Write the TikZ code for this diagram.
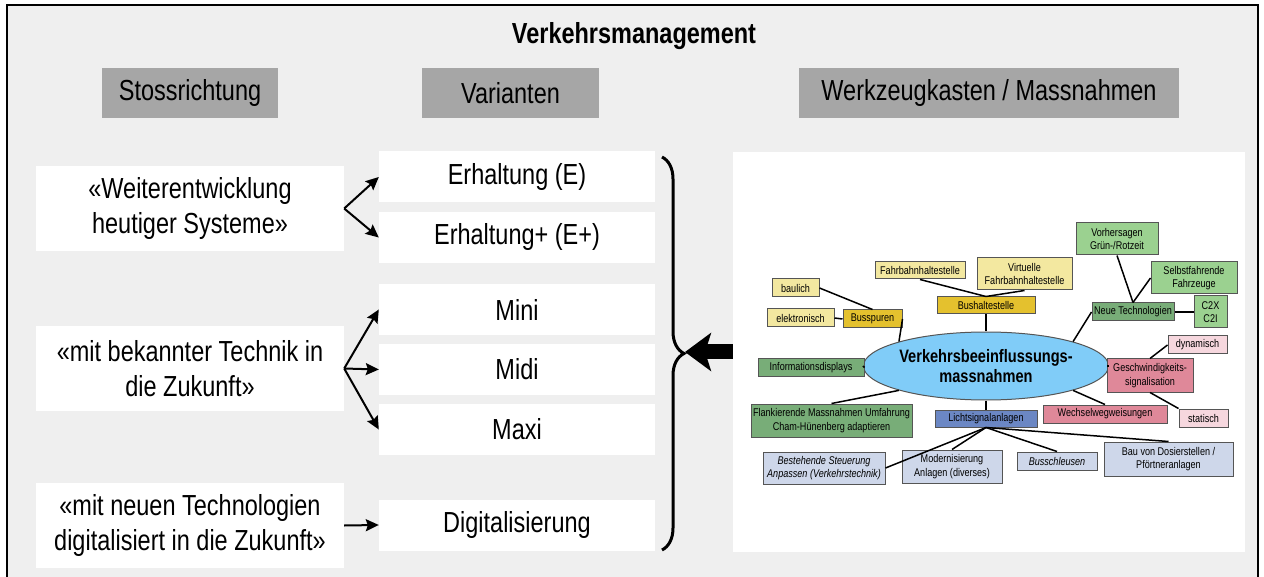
\documentclass[tikz,border=0pt]{standalone}
\usepackage{fontspec}
\setmainfont[FakeStretch=0.81]{Liberation Sans}
\usetikzlibrary{arrows.meta, shapes.geometric, decorations.pathreplacing}
\definecolor{cpanel}{HTML}{EFEFEF}
\definecolor{chead}{HTML}{A6A6A6}
\definecolor{cgold}{HTML}{E4C12E}
\definecolor{cyel}{HTML}{F3E8A0}
\definecolor{cgreen}{HTML}{9BD190}
\definecolor{cdkgreen}{HTML}{78AD78}
\definecolor{cpink}{HTML}{DF8899}
\definecolor{cltpink}{HTML}{F6D7DE}
\definecolor{cblue}{HTML}{6B87C4}
\definecolor{cltblue}{HTML}{CED7EA}
\definecolor{csky}{HTML}{80CCF8}
\definecolor{cedge}{HTML}{555555}
\tikzset{
  big/.style={font=\fontsize{29}{35}\selectfont},
  head/.style={big, fill=chead, minimum height=50pt, inner sep=0pt},
  card/.style={big, fill=white, align=center, inner sep=0pt},
  tag/.style={fill=#1, draw=cedge, line width=1pt, align=center, inner sep=0pt,
    font=\fontsize{11.2}{13.5}\selectfont},
  link/.style={line width=1.5pt},
  branch/.style={line width=2pt, -{Stealth[length=13pt, width=12pt, inset=2pt]}},
  bigarrow/.style={line width=15pt, -{Stealth[length=26pt, width=38pt, inset=6pt]}},
}

\begin{document}
\begin{tikzpicture}[x=1pt, y=-1pt]
  \fill[white] (0,0) rectangle (1264,577);
  \useasboundingbox (0,0) rectangle (1264,577);
  % frame
  \fill[cpanel] (7,5) rectangle (1258,577);
  \draw[line width=2pt] (7,577) -- (7,5) -- (1258,5) -- (1258,577);
  \node[big, font=\fontsize{29}{35}\selectfont\bfseries, anchor=base] (title) at (634,44) {Verkehrsmanagement};

  % column heads
  \node[head, minimum width=176pt] (hstoss) at (190,93) {Stossrichtung};
  \node[head, minimum width=177pt] (hvar) at (510.5,93) {Varianten};
  \node[head, minimum width=380pt] (hwerk) at (989,93) {Werkzeugkasten / Massnahmen};

  % Stossrichtungen
  \node[card, minimum width=308pt, minimum height=85pt] (weiter) at (190,208.5) {«Weiterentwicklung\\heutiger Systeme»};
  \node[card, minimum width=308pt, minimum height=85pt] (bekannt) at (190,368.5) {«mit bekannter Technik in\\die Zukunft»};
  \node[card, minimum width=308pt, minimum height=85pt] (neu) at (190,525.5) {«mit neuen Technologien\\digitalisiert in die Zukunft»};

  % Varianten
  \foreach \n/\y/\t in {ve/177/Erhaltung (E), vep/237.5/Erhaltung+ (E+), vmini/309.5/Mini,
                        vmidi/369.5/Midi, vmaxi/429.5/Maxi, vdig/525/Digitalisierung}
    \node[card, minimum width=276pt, minimum height=51pt] (\n) at (517,\y) {\t};

  \draw[branch] (weiter.east) -- (ve.west);
  \draw[branch] (weiter.east) -- (vep.west);
  \foreach \v in {vmini, vmidi, vmaxi}
    \draw[branch] (bekannt.east) -- (\v.west);
  \draw[branch] (neu.east) -- (vdig.west);

  % brace and arrow from the toolbox
  \draw[decorate, decoration={brace, amplitude=22pt}, line width=3pt] (662,157) -- (662,550);
  \node[fill=white, minimum width=512pt, minimum height=400pt, inner sep=0pt] (panel) at (989,352) {};
  \coordinate (tip) at (685,352);
  \draw[bigarrow] (panel.west) -- (tip);

  % mind map
  \node[ellipse, draw=cedge, line width=1pt, fill=csky, minimum width=228pt, minimum height=68pt,
    inner sep=0pt, align=center, font=\fontsize{18}{20}\selectfont\bfseries] (ell) at (986,366)
    {Verkehrsbeeinflussungs-\\massnahmen};

  \node[tag=cgold, minimum width=98pt, minimum height=17pt] (bush) at (986,305.5) {Bushaltestelle};
  \node[tag=cyel, minimum width=90pt, minimum height=17pt] (fahrb) at (920,270.5) {Fahrbahnhaltestelle};
  \node[tag=cyel, minimum width=95pt, minimum height=32pt] (virt) at (1024.5,274) {Virtuelle\\Fahrbahnhaltestelle};
  \node[tag=cgold, minimum width=59pt, minimum height=18pt] (busspur) at (872.5,319) {Busspuren};
  \node[tag=cyel, minimum width=47pt, minimum height=18pt] (baulich) at (795.5,288) {baulich};
  \node[tag=cyel, minimum width=67pt, minimum height=18pt] (elektr) at (800.5,318) {elektronisch};

  \node[tag=cdkgreen, minimum width=82pt, minimum height=18pt] (neutech) at (1133,312) {Neue Technologien};
  \node[tag=cgreen, minimum width=82pt, minimum height=32pt] (vorh) at (1117,239) {Vorhersagen\\Grün-/Rotzeit};
  \node[tag=cgreen, minimum width=86pt, minimum height=32pt] (selbst) at (1194,278) {Selbstfahrende\\Fahrzeuge};
  \node[tag=cgreen, minimum width=33pt, minimum height=32pt] (c2x) at (1210.5,312) {C2X\\C2I};

  \node[tag=cpink, minimum width=86pt, minimum height=33pt] (geschw) at (1150,375.5) {Geschwindigkeits-\\signalisation};
  \node[tag=cltpink, minimum width=59pt, minimum height=18pt] (dyn) at (1197.5,345) {dynamisch};
  \node[tag=cltpink, minimum width=49pt, minimum height=18pt] (stat) at (1203.5,418) {statisch};
  \node[tag=cpink, minimum width=124pt, minimum height=18pt] (wechsel) at (1105,414) {Wechselwegweisungen};

  \node[tag=cdkgreen, minimum width=106pt, minimum height=17pt] (infod) at (811,367.5) {Informationsdisplays};
  \node[tag=cdkgreen, minimum width=161pt, minimum height=33pt] (flank) at (831.5,420.5) {Flankierende Massnahmen Umfahrung\\Cham-Hünenberg adaptieren};

  \node[tag=cblue, minimum width=102pt, minimum height=17pt] (licht) at (986,418.5) {Lichtsignalanlagen};
  \node[tag=cltblue, minimum width=122pt, minimum height=32pt, font=\fontsize{11.2}{13.5}\selectfont\itshape] (bestst) at (824,468) {Bestehende Steuerung\\Anpassen (Verkehrstechnik)};
  \node[tag=cltblue, minimum width=100pt, minimum height=33pt] (modern) at (952,466.5) {Modernisierung\\Anlagen (diverses)};
  \node[tag=cltblue, minimum width=80pt, minimum height=18pt, font=\fontsize{11.2}{13.5}\selectfont\itshape] (bussch) at (1057,461) {Busschleusen};
  \node[tag=cltblue, minimum width=129pt, minimum height=34pt] (bau) at (1168.5,459) {Bau von Dosierstellen /\\Pförtneranlagen};

  % links
  \draw[link] (bush.south) -- (ell.north);
  \draw[link] (fahrb.south) -- (bush.north);
  \draw[link] (virt.south) -- (bush.north);
  \draw[link] (busspur.east) -- (ell.north west);
  \draw[link] (baulich.east) -- (busspur.north);
  \draw[link] (elektr.east) -- (busspur.west);
  \draw[link] (neutech.west) -- (ell.north east);
  \draw[link] (vorh.south) -- (neutech.north);
  \draw[link] (selbst.west) -- (neutech.north);
  \draw[link] (neutech.east) -- (c2x.west);
  \draw[link] (ell.east) -- (ell.east -| geschw.west);
  \draw[link] (geschw.north) -- (dyn.west);
  \draw[link] (geschw.south) -- (stat.north west);
  \draw[link] (ell.south east) -- (wechsel.north);
  \draw[link] (infod.east) -- (ell.west);
  \draw[link] (flank.north) -- (ell.south west);
  \draw[link] (ell.south) -- (licht.north);
  \foreach \m in {bestst.east, modern.north, bussch.north, bau.north}
    \draw[link] (\m) -- (licht.south);
\end{tikzpicture}
\end{document}
